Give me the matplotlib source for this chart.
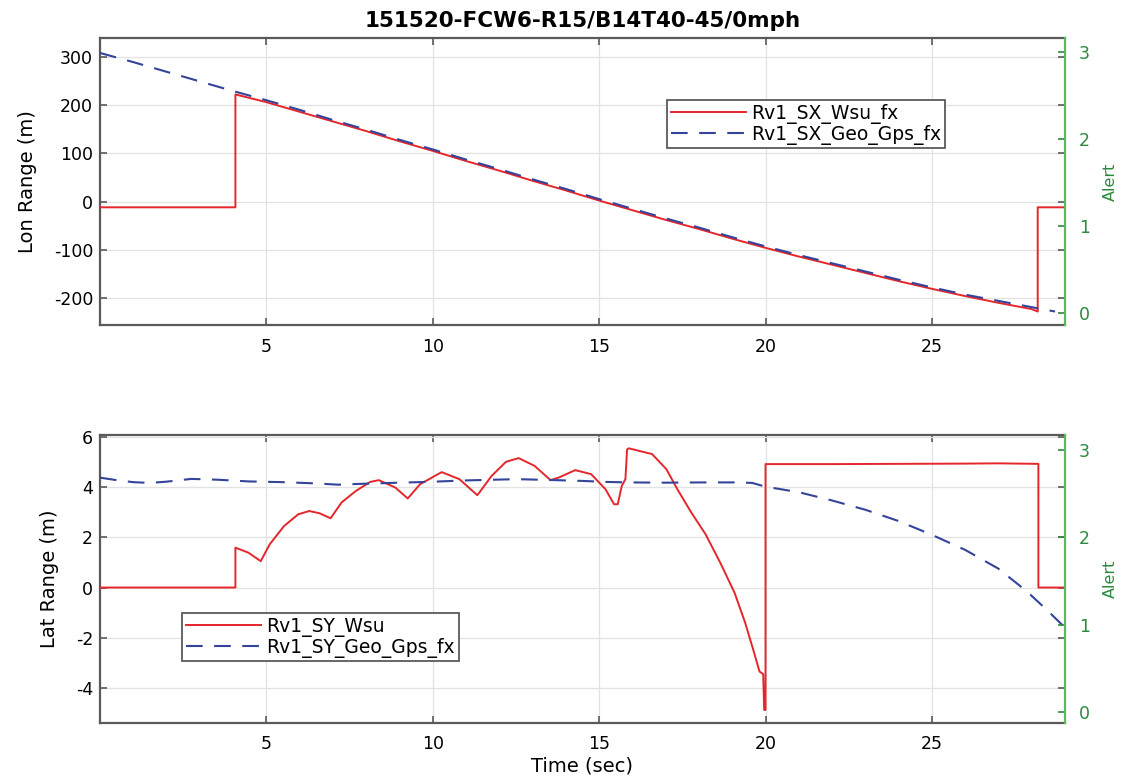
import numpy as np
import matplotlib
matplotlib.use("Agg")
import matplotlib.pyplot as plt

# ---- data ----
# top: longitudinal range (m)
lon_t_wsu = [0, 4.07, 4.07, 5, 6, 7, 8, 9, 10, 11, 12, 13, 14, 15, 16, 17, 18,
             19, 20, 21, 22, 23, 24, 25, 26, 27, 28, 28.18, 28.18, 29]
lon_wsu = [-12, -12, 222, 206, 186, 166, 146, 125, 105, 84, 64, 43, 23, 2, -18,
           -38, -57, -77, -96, -114, -131, -148, -165, -181, -196, -210, -223,
           -228, -12, -12]

lon_t_geo = [0, 1, 2, 3, 4, 5, 6, 7, 8, 9, 10, 11, 12, 13, 14, 15, 16, 17, 18,
             19, 20, 21, 22, 23, 24, 25, 26, 27, 28, 28.7]
lon_geo = [308, 289, 269, 249, 229, 210, 190, 169, 149, 128, 108, 87, 67, 46,
           26, 5, -15, -35, -54, -74, -93, -111, -128, -145, -162, -178, -193,
           -206, -219, -228]

# bottom: lateral range (m)
lat_t_wsu = [0, 4.07, 4.07, 4.46, 4.83, 5.1, 5.53, 5.96, 6.29, 6.6, 6.93, 7.26,
             7.69, 8.12, 8.38, 8.87, 9.25, 9.62, 10.27, 10.8, 11.34, 11.77,
             12.2, 12.58, 13.06, 13.54, 13.8, 14.28, 14.76, 15.19, 15.45, 15.56,
             15.68, 15.79, 15.84, 15.89, 16.59, 17.02, 17.35, 17.77, 18.2,
             18.64, 19.07, 19.39, 19.66, 19.82, 19.93, 19.96, 19.96, 20.0, 20.0,
             22, 24, 26, 27, 28.2, 28.2, 29]
lat_wsu = [0, 0, 1.59, 1.39, 1.05, 1.72, 2.45, 2.92, 3.05, 2.96, 2.76, 3.39,
           3.85, 4.21, 4.28, 3.99, 3.55, 4.12, 4.6, 4.32, 3.68, 4.45, 5.01, 5.16,
           4.85, 4.28, 4.39, 4.68, 4.52, 3.92, 3.32, 3.32, 4.05, 4.32, 5.5, 5.55,
           5.32, 4.72, 3.92, 2.99, 2.12, 0.99, -0.21, -1.41, -2.61, -3.35, -3.45,
           -4.88, -4.88, -4.88, 4.92, 4.92, 4.93, 4.94, 4.95, 4.93, 0, 0]

lat_t_geo = [0, 0.5, 1, 1.5, 2, 2.74, 3.5, 4.46, 5.5, 6.5, 7.15, 8, 9, 9.84, 11,
             12.53, 13.7, 14.5, 15.2, 15.9, 17, 18.1, 19.18, 19.6, 20, 21, 22,
             23, 24, 25, 26, 27, 27.85, 28.5, 29]
lat_geo = [4.38, 4.28, 4.2, 4.17, 4.22, 4.33, 4.3, 4.23, 4.2, 4.15, 4.1, 4.14,
           4.18, 4.21, 4.27, 4.32, 4.28, 4.25, 4.21, 4.19, 4.18, 4.19, 4.19,
           4.17, 4.02, 3.8, 3.47, 3.1, 2.65, 2.1, 1.5, 0.75, -0.15, -0.95, -1.6]

x_ticks = [5, 10, 15, 20, 25]
lon_ticks = [-200, -100, 0, 100, 200, 300]
lat_ticks = [-4, -2, 0, 2, 4, 6]
alert_ticks = [0, 1, 2, 3]

title = "151520-FCW6-R15/B14T40-45/0mph"

RED = "#e5262b"
BLUE = "#34449a"
GREEN_SPINE = "#5cb85c"
GREEN_TXT = "#2b8a3e"
FRAME = "#5a5a5a"

plt.rcParams['font.family'] = ['DejaVu Sans']
plt.rcParams['axes.unicode_minus'] = False

fig = plt.figure(figsize=(11.22, 7.8), dpi=100)
ax1 = fig.add_axes([0.0891, 0.5833, 0.8601, 0.368])
ax2 = fig.add_axes([0.0891, 0.0731, 0.8601, 0.3692])


def style(ax, ylim, yticks, alim, ylabel):
    ax.set_xlim(0, 29)
    ax.set_ylim(*ylim)
    ax.set_xticks(x_ticks)
    ax.set_yticks(yticks)
    ax.grid(True, color="#e2e2e2", lw=0.9)
    ax.set_axisbelow(True)
    ax.set_ylabel(ylabel, fontsize=14, labelpad=12)
    for s in ["left", "top", "bottom"]:
        ax.spines[s].set_color(FRAME)
        ax.spines[s].set_linewidth(1.6)
    ax.spines["right"].set_visible(False)
    tw = ax.twinx()
    tw.set_ylim(*alim)
    tw.set_yticks(alert_ticks)
    for s in ["left", "top", "bottom"]:
        tw.spines[s].set_visible(False)
    tw.spines["right"].set_color(GREEN_SPINE)
    tw.spines["right"].set_linewidth(1.6)
    tw.tick_params(axis="y", direction="in", length=5, width=1.2,
                   colors=GREEN_TXT, labelsize=12.5, pad=10)
    tw.set_ylabel("Alert", color=GREEN_TXT, fontsize=11.5, labelpad=9)
    ax.tick_params(axis="both", direction="in", length=5, width=1.2,
                   color=FRAME, labelsize=12.5, top=True, right=True)
    ax.tick_params(axis="x", pad=9)
    ax.tick_params(axis="y", pad=5)
    return tw


style(ax1, (-256, 339), lon_ticks, (-0.138, 3.161), "Lon Range (m)")
style(ax2, (-5.4, 6.08), lat_ticks, (-0.126, 3.172), "Lat Range (m)")

ax1.plot(lon_t_wsu, lon_wsu, color=RED, lw=1.4, label="Rv1_SX_Wsu_fx", zorder=3)
ax1.plot(lon_t_geo, lon_geo, color=BLUE, lw=1.5, dashes=(8, 5.5),
         label="Rv1_SX_Geo_Gps_fx", zorder=3)
ax2.plot(lat_t_wsu, lat_wsu, color=RED, lw=1.4, label="Rv1_SY_Wsu", zorder=3)
ax2.plot(lat_t_geo, lat_geo, color=BLUE, lw=1.5, dashes=(8, 5.5),
         label="Rv1_SY_Geo_Gps_fx", zorder=3)

ax1.set_title(title, fontsize=15.5, fontweight="bold", pad=8)
ax2.set_xlabel("Time (sec)", fontsize=14, labelpad=2)

leg_kw = dict(fontsize=13.5, fancybox=False, framealpha=1, edgecolor=FRAME,
              handlelength=4.0, handletextpad=0.3, labelspacing=0.05,
              borderpad=0.2, borderaxespad=0)
l1 = ax1.legend(loc="upper left", bbox_to_anchor=(667 / 1122, 1 - 100 / 780),
                bbox_transform=fig.transFigure, **leg_kw)
l2 = ax2.legend(loc="upper left", bbox_to_anchor=(182 / 1122, 1 - 613 / 780),
                bbox_transform=fig.transFigure, **leg_kw)
for l in (l1, l2):
    l.get_frame().set_linewidth(1.3)
    l.set_zorder(10)

fig.savefig("out.png", dpi=100)
